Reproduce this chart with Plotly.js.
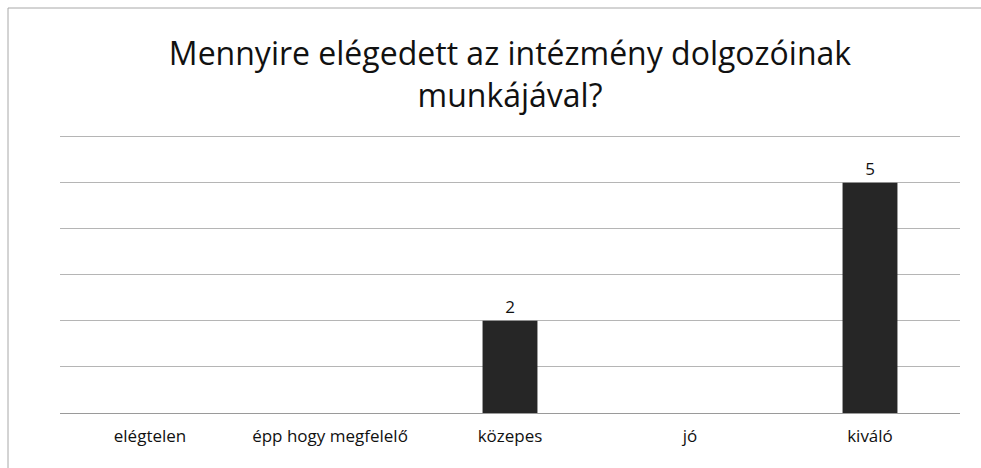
<!DOCTYPE html>
<html><head><meta charset="utf-8">
<script src="https://cdn.plot.ly/plotly-3.0.1.min.js"></script>
<style>html,body{margin:0;padding:0;background:#fff}#chart{width:981px;height:468px}</style>
</head><body><div id="chart"></div>
<script>
const categories = ["elégtelen", "épp hogy megfelelő", "közepes", "jó", "kiváló"];
const values = [0, 0, 2, 0, 5];
const labels = ["", "", "2", "", "5"];
const chartTitle = "Mennyire elégedett az intézmény dolgozóinak<br>munkájával?";

const trace = {
  type: "bar",
  x: categories,
  y: values,
  text: labels,
  textposition: "outside",
  cliponaxis: false,
  textfont: {family: "Open Sans, Liberation Sans, sans-serif", size: 17, color: "#111"},
  marker: {color: "#262626"},
  hoverinfo: "x+y"
};

const layout = {
  width: 981, height: 468,
  margin: {l: 60, r: 21, t: 132, b: 55},
  paper_bgcolor: "#fff", plot_bgcolor: "#fff",
  bargap: 0.695,
  showlegend: false,
  font: {family: "Open Sans, Liberation Sans, sans-serif", color: "#111"},
  title: {
    text: chartTitle,
    font: {size: 32, color: "#111", family: "Open Sans, Liberation Sans, sans-serif"},
    x: 0.5, xref: "paper", xanchor: "center", y: 0.861, yref: "container", yanchor: "top"
  },
  xaxis: {
    type: "category",
    showgrid: false, showline: false, zeroline: false, ticks: "",
    ticklabelstandoff: 11,
    tickfont: {size: 17, color: "#111"}
  },
  yaxis: {
    range: [0, 6.1], dtick: 1, tick0: 0,
    showticklabels: false, ticks: "",
    showgrid: true, gridcolor: "#b5b5b5", gridwidth: 1,
    zeroline: true, zerolinecolor: "#9a9a9a", zerolinewidth: 1,
    showline: false
  },
  shapes: [{
    type: "rect", xref: "paper", yref: "paper",
    x0: (8 - 60) / 900, x1: (1000 - 60) / 900,
    y0: (413 - 490) / 281, y1: (413 - 8) / 281,
    line: {color: "#a8a8a8", width: 1}
  }]
};

Plotly.newPlot("chart", [trace], layout, {displayModeBar: false, staticPlot: true});
</script></body></html>
